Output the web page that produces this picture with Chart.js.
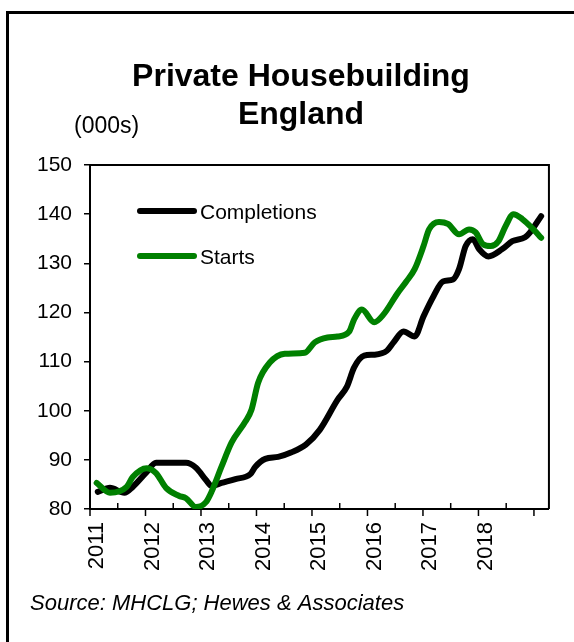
<!DOCTYPE html>
<html><head><meta charset="utf-8">
<script src="https://cdn.jsdelivr.net/npm/chart.js@4.4.1/dist/chart.umd.min.js"></script>
<style>html,body{margin:0;padding:0;background:#fff;}#c{display:block;}</style>
</head><body>
<canvas id="c" width="574" height="642" style="width:574px;height:642px"></canvas>
<script>
const titleLines = ['Private Housebuilding', 'England'];
const unitLabel = '(000s)';
const sourceText = 'Source: MHCLG; Hewes & Associates';
const seriesNames = ['Completions', 'Starts'];
const seriesColors = ['#000000', '#008000'];
const yearLabels = [2011, 2012, 2013, 2014, 2015, 2016, 2017, 2018];

const completionDates = [2011.14, 2011.36, 2011.62, 2011.77, 2012.02, 2012.19, 2012.73, 2012.91, 2013.09, 2013.19, 2013.37, 2013.62, 2013.89, 2013.98, 2014.16, 2014.39, 2014.62, 2014.89, 2015.14, 2015.46, 2015.63, 2015.76, 2015.94, 2016.12, 2016.35, 2016.47, 2016.65, 2016.85, 2017.01, 2017.19, 2017.36, 2017.54, 2017.65, 2017.77, 2017.90, 2018.01, 2018.18, 2018.43, 2018.61, 2018.84, 2018.93, 2019.13];
const completionValues = [83.5, 84.3, 83.3, 84.5, 87.5, 89.4, 89.4, 88.4, 85.9, 84.7, 85.3, 86.1, 87.1, 88.6, 90.2, 90.6, 91.5, 93.1, 96.1, 102.2, 104.9, 108.8, 111.2, 111.4, 112.2, 113.9, 116.1, 115.1, 119.2, 123.3, 126.3, 126.7, 128.8, 133.5, 134.9, 132.9, 131.4, 132.9, 134.5, 135.3, 136.3, 139.6];

const startDates = [2011.12, 2011.36, 2011.66, 2011.77, 2012.02, 2012.19, 2012.37, 2012.60, 2012.73, 2012.91, 2013.09, 2013.19, 2013.37, 2013.55, 2013.80, 2013.91, 2014.03, 2014.24, 2014.51, 2014.87, 2015.05, 2015.28, 2015.46, 2015.67, 2015.76, 2015.90, 2016.12, 2016.29, 2016.53, 2016.70, 2016.85, 2017.01, 2017.11, 2017.29, 2017.45, 2017.65, 2017.83, 2017.95, 2018.08, 2018.22, 2018.36, 2018.49, 2018.63, 2018.79, 2018.99, 2019.13];
const startValues = [85.3, 83.3, 84.5, 86.5, 88.3, 87.3, 84.3, 82.7, 82.2, 80.4, 81.4, 83.5, 88.6, 93.5, 97.8, 100.2, 105.7, 109.8, 111.6, 111.8, 113.9, 114.9, 115.1, 116.1, 118.6, 120.6, 118.0, 119.6, 123.7, 126.3, 128.8, 133.5, 136.9, 138.4, 138.0, 135.9, 136.9, 136.3, 133.9, 133.5, 134.5, 137.6, 140.0, 139.0, 136.9, 135.2];

const F = "'Liberation Sans', Arial, sans-serif";
const toXY = (xs, ys) => xs.map((x, i) => ({x: x, y: ys[i]}));

const decor = {
  id: 'decor',
  beforeDraw(chart) {
    const ctx = chart.ctx;
    ctx.save();
    ctx.fillStyle = '#fff';
    ctx.fillRect(0, 0, chart.width, chart.height);
    ctx.strokeStyle = '#000';
    ctx.lineWidth = 3;
    ctx.beginPath();
    ctx.moveTo(7.5, chart.height);
    ctx.lineTo(7.5, 12.5);
    ctx.lineTo(chart.width, 12.5);
    ctx.stroke();
    ctx.restore();
  },
  afterDraw(chart) {
    const ctx = chart.ctx, a = chart.chartArea, x = chart.scales.x;
    ctx.save();
    ctx.strokeStyle = '#000';
    ctx.lineWidth = 2;
    ctx.beginPath();
    ctx.moveTo(a.left, a.top);
    ctx.lineTo(a.right, a.top);
    ctx.lineTo(a.right, a.bottom);
    ctx.stroke();
    ctx.lineWidth = 1.5;
    x.ticks.forEach(t => {
      const px = x.getPixelForValue(t.value);
      const major = Math.abs(t.value - Math.round(t.value)) < 1e-6;
      ctx.beginPath();
      ctx.moveTo(px, a.bottom);
      ctx.lineTo(px, major ? a.bottom + 7 : a.bottom - 6);
      ctx.stroke();
    });
    const legY = [211, 256];
    chart.data.datasets.forEach((ds, i) => {
      ctx.strokeStyle = ds.borderColor;
      ctx.lineWidth = 6;
      ctx.lineCap = 'round';
      ctx.beginPath();
      ctx.moveTo(140, legY[i]);
      ctx.lineTo(194, legY[i]);
      ctx.stroke();
      ctx.fillStyle = '#000';
      ctx.font = '21px ' + F;
      ctx.textBaseline = 'middle';
      ctx.textAlign = 'left';
      ctx.fillText(ds.label, 200, legY[i] + 2);
    });
    ctx.fillStyle = '#000';
    ctx.textBaseline = 'middle';
    ctx.textAlign = 'left';
    ctx.font = '23px ' + F;
    ctx.fillText(unitLabel, 74, 127);
    ctx.font = 'italic 22px ' + F;
    ctx.fillText(sourceText, 30, 604);
    ctx.restore();
  }
};

new Chart(document.getElementById('c'), {
  type: 'line',
  data: {
    datasets: [
      {label: seriesNames[0], data: toXY(completionDates, completionValues), borderColor: seriesColors[0], borderWidth: 6, pointRadius: 0, cubicInterpolationMode: 'monotone', fill: false, borderJoinStyle: 'round', borderCapStyle: 'round', order: 1},
      {label: seriesNames[1], data: toXY(startDates, startValues), borderColor: seriesColors[1], borderWidth: 6, pointRadius: 0, cubicInterpolationMode: 'monotone', fill: false, borderJoinStyle: 'round', borderCapStyle: 'round', order: 0}
    ]
  },
  options: {
    responsive: false,
    animation: false,
    devicePixelRatio: 1,
    layout: {padding: {left: 30, right: 2, top: 0, bottom: 53}},
    plugins: {
      legend: {display: false},
      tooltip: {enabled: false},
      title: {display: true, text: titleLines, color: '#000', font: {family: F, size: 32, weight: 'bold', lineHeight: 1.1875}, padding: {top: 58, bottom: 31}}
    },
    scales: {
      x: {
        type: 'linear', min: 2011, max: 2019.27,
        afterFit: s => { s.height = 80; },
        ticks: {stepSize: 0.5, includeBounds: false, autoSkip: false, minRotation: 90, maxRotation: 90, padding: 13, labelOffset: 7, color: '#000', font: {family: F, size: 22},
          callback: v => yearLabels.includes(Math.round(v)) && Math.abs(v - Math.round(v)) < 1e-6 ? String(Math.round(v)) : ''},
        grid: {display: false, drawTicks: false},
        border: {display: true, color: '#000', width: 2}
      },
      y: {
        min: 80, max: 150,
        afterFit: s => { s.width = 60; },
        ticks: {stepSize: 10, padding: 12, color: '#000', font: {family: F, size: 21}},
        grid: {display: true, drawOnChartArea: false, drawTicks: true, tickLength: 6, color: '#000', lineWidth: 1.5},
        border: {display: true, color: '#000', width: 2}
      },
      yr: {
        position: 'right', min: 80, max: 150,
        afterFit: s => { s.width = 18; },
        ticks: {display: false},
        grid: {display: false, drawTicks: false},
        border: {display: false}
      }
    }
  },
  plugins: [decor]
});
</script>
</body></html>
